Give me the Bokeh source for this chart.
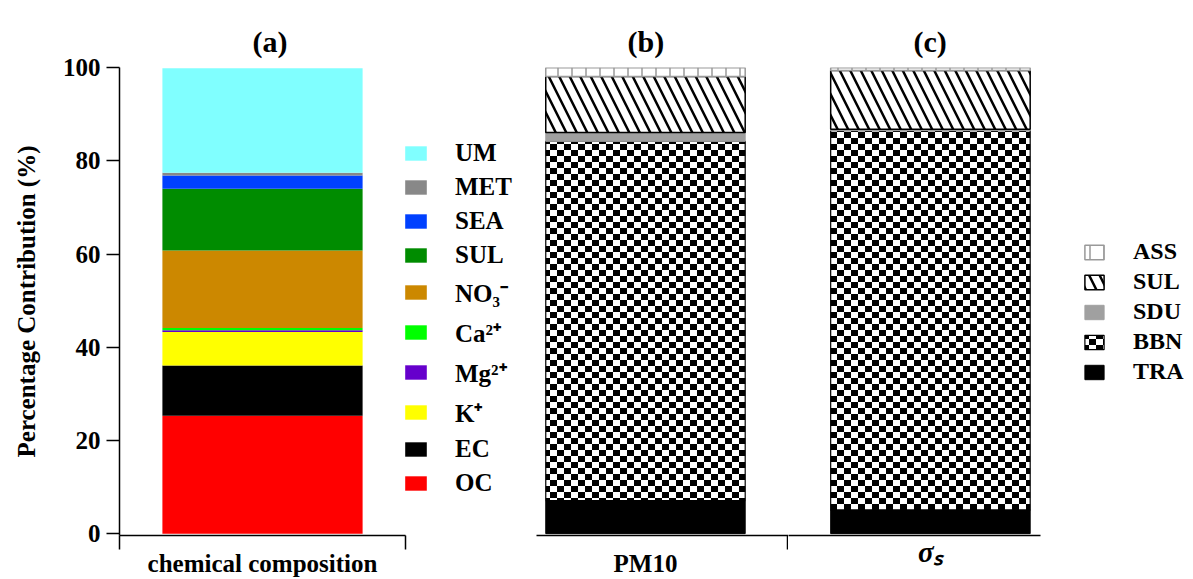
import zlib, struct, base64
import numpy as np
from bokeh.plotting import figure
from bokeh.layouts import row
from bokeh.models import Range1d, FixedTicker, Legend, LegendItem, Title, ImageURLTexture
from bokeh.core.properties import value
from bokeh.embed import file_html
from bokeh.resources import INLINE

# ---------------- data ----------------
chem_species = ["OC", "EC", "K⁺", "Mg²⁺", "Ca²⁺", "NO₃⁻", "SUL", "SEA", "MET", "UM"]
chem_values = [25.3, 10.8, 7.2, 0.35, 0.5, 16.6, 13.3, 2.8, 0.6, 22.45]
chem_colors = ["#ff0000", "#000000", "#ffff00", "#6600cc", "#00ff00",
               "#cc8800", "#008c00", "#0040ff", "#888888", "#80ffff"]
chem_category = "chemical composition"

source_names = ["TRA", "BBN", "SDU", "SUL", "ASS"]
pm10_values = [7.1, 77.1, 1.9, 12.0, 1.9]
sigma_values = [5.1, 81.4, 0.3, 12.6, 0.6]
categories_bc = ["PM10", "σₛ"]
panel_titles = ["(a)", "(b)", "(c)"]
y_ticks = [0, 20, 40, 60, 80, 100]
y_label = "Percentage Contribution (%)"

FONT = "Liberation Serif"
BAR_W = 0.7
Y0, Y1 = -0.4, 100.05
TOP, FH = 67, 468


def checker_png(cw, ch):
    w, h = 2 * cw, 2 * ch
    raw = b""
    for yy in range(h):
        r = bytearray([0])
        for xx in range(w):
            v = 0 if ((xx // cw) + (yy // ch)) % 2 == 0 else 255
            r += bytes([v, v, v])
        raw += bytes(r)

    def chunk(t, d):
        return struct.pack(">I", len(d)) + t + d + struct.pack(">I", zlib.crc32(t + d) & 0xffffffff)

    png = (b"\x89PNG\r\n\x1a\n" + chunk(b"IHDR", struct.pack(">IIBBBBB", w, h, 8, 2, 0, 0, 0))
           + chunk(b"IDAT", zlib.compress(raw)) + chunk(b"IEND", b""))
    return "data:image/png;base64," + base64.b64encode(png).decode()


tex = ImageURLTexture(url=checker_png(7, 6), repetition="repeat")

src_styles = {
    "TRA": dict(fill_color="black", line_color="black"),
    "BBN": dict(fill_color="white", hatch_pattern=value("checker"), hatch_extra={"checker": tex},
                line_color="black", line_width=1.2),
    "SDU": dict(fill_color="#a0a0a0", line_color="#a0a0a0"),
    "SUL": dict(fill_color="white", hatch_pattern="left_diagonal_line", hatch_color="black",
                hatch_scale=21, hatch_weight=2.5, line_color="black", line_width=1.5),
    "ASS": dict(fill_color="white", hatch_pattern="vertical_line", hatch_color="#999999",
                hatch_scale=14, hatch_weight=1.5, line_color="#999999", line_width=1.5),
}


def make_fig(xr, fw, left, yaxis, bounds):
    p = figure(frame_width=fw, frame_height=FH, x_range=Range1d(*xr), y_range=Range1d(Y0, Y1),
               output_backend="svg", toolbar_location=None,
               y_axis_location="left" if yaxis else None,
               min_border_left=left, min_border_right=0, min_border_top=TOP, min_border_bottom=40)
    p.xgrid.visible = False
    p.ygrid.visible = False
    p.outline_line_color = None
    p.background_fill_color = "white"
    p.border_fill_color = "white"
    ax = p.xaxis[0]
    ax.bounds = bounds
    ax.axis_line_width = 1.5
    ax.major_tick_in = 0
    ax.major_tick_out = 0
    ax.minor_tick_in = 0
    ax.minor_tick_out = 14
    ax.minor_tick_line_width = 1.5
    ax.minor_tick_line_color = "black"
    ax.major_label_standoff = 0
    ax.major_label_text_font = FONT
    ax.major_label_text_font_size = "25px"
    ax.major_label_text_font_style = "bold"
    ax.major_label_text_color = "black"
    if yaxis:
        ya = p.yaxis[0]
        ya.ticker = FixedTicker(ticks=y_ticks)
        ya.axis_line_width = 1.5
        ya.major_tick_line_width = 1.5
        ya.major_tick_in = 0
        ya.major_tick_out = 13
        ya.minor_tick_out = 0
        ya.minor_tick_in = 0
        ya.major_label_standoff = 6
        ya.major_label_text_font = FONT
        ya.major_label_text_font_size = "25px"
        ya.major_label_text_font_style = "bold"
        ya.major_label_text_color = "black"
        ya.axis_label = y_label
        ya.axis_label_standoff = 20
        ya.axis_label_text_font = FONT
        ya.axis_label_text_font_size = "25px"
        ya.axis_label_text_font_style = "bold"
        ya.axis_label_text_color = "black"
    return p


def add_title(p, text, offset):
    p.add_layout(Title(text=text, align="left", offset=offset, standoff=20,
                       text_font=FONT, text_font_size="30px", text_font_style="bold",
                       text_color="black"), "above")


# ---------------- panel (a) ----------------
pa = make_fig((0.5, 1.958), 417, 119, True, (0.5, 1.5))
pa.xaxis[0].ticker = FixedTicker(ticks=[1], minor_ticks=[0.5, 1.5])
pa.xaxis[0].major_label_overrides = {1: chem_category}
tops = np.cumsum(chem_values)
bots = tops - np.array(chem_values)
rends_a = []
for name, b, t, c in zip(chem_species, bots, tops, chem_colors):
    r = pa.vbar(x=[1], width=BAR_W, bottom=[b], top=[t], fill_color=c, line_color=None)
    rends_a.append((name, r))
leg_a = Legend(items=[LegendItem(label=n, renderers=[r]) for n, r in reversed(rends_a)],
               location=(283, 38), glyph_width=27, glyph_height=18,
               label_standoff=26, spacing=6, padding=0, margin=0,
               border_line_color=None, background_fill_alpha=0,
               label_text_font=FONT, label_text_font_size="25px", label_text_font_style="bold",
               label_text_color="black")
pa.add_layout(leg_a, "center")
add_title(pa, panel_titles[0], 133)

# ---------------- panel (b) ----------------
pb = make_fig((0.6175, 1.502), 252, 0, False, (0.6175, 1.502))
pb.xaxis[0].ticker = FixedTicker(ticks=[1], minor_ticks=[1.499])
pb.xaxis[0].major_label_overrides = {1: categories_bc[0]}
add_title(pb, panel_titles[1], 91)

# ---------------- panel (c) ----------------
pc = make_fig((1.502, 2.9055), 400, 0, False, (1.502, 2.386))
pc.xaxis[0].ticker = FixedTicker(ticks=[2], minor_ticks=[])
pc.xaxis[0].major_label_overrides = {2: categories_bc[1]}
pc.xaxis[0].major_label_text_font_style = "bold italic"
pc.xaxis[0].major_label_text_font_size = "29px"
add_title(pc, panel_titles[2], 125)

rends_c = []
for p, xpos, vals in ((pb, 1, pm10_values), (pc, 2, sigma_values)):
    t = np.cumsum(vals)
    b = t - np.array(vals)
    for name, bb, tt in zip(source_names, b, t):
        r = p.vbar(x=[xpos], width=BAR_W, bottom=[bb], top=[tt], **src_styles[name])
        if p is pc:
            rends_c.append((name, r))

leg_c = Legend(items=[LegendItem(label=n, renderers=[r]) for n, r in reversed(rends_c)],
               location=(294, 150), glyph_width=24, glyph_height=18,
               label_standoff=27, spacing=3, padding=0, margin=0,
               border_line_color=None, background_fill_alpha=0,
               label_text_font=FONT, label_text_font_size="24px", label_text_font_style="bold",
               label_text_color="black")
pc.add_layout(leg_c, "center")

layout = row(pa, pb, pc, spacing=0)
open("out.html", "w").write(file_html(layout, INLINE))
